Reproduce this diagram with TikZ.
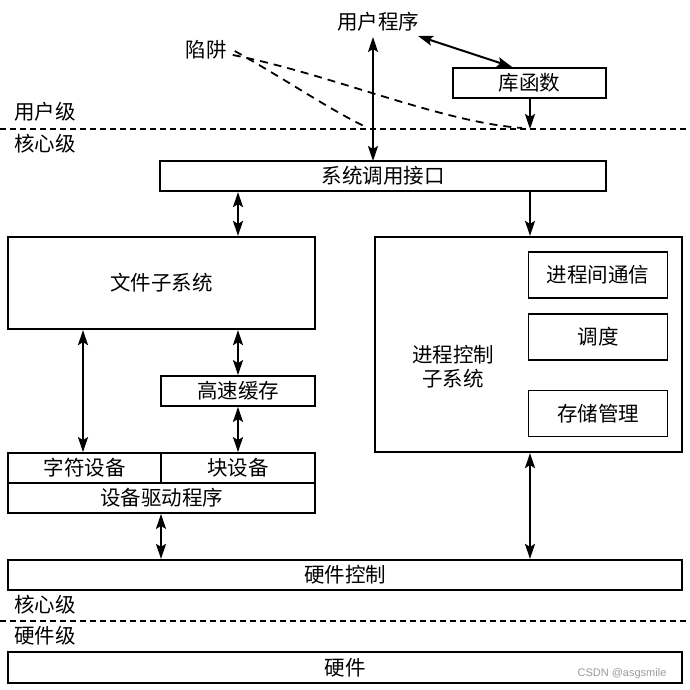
\documentclass[tikz,border=0pt]{standalone}
\usepackage{fontspec}
\newfontfamily\cjk{Noto Sans CJK SC}
\usetikzlibrary{arrows.meta}
\begin{document}
\begin{tikzpicture}[x=1pt,y=-1pt,
  box/.style={draw, line width=2.2pt, rectangle, inner sep=0pt, font=\cjk\fontsize{20.5}{24}\selectfont},
  lbl/.style={inner sep=0pt, font=\cjk\fontsize{20.5}{24}\selectfont},
  dbl/.style={line width=2pt, {Stealth[length=15pt,width=10pt,inset=3pt]}-{Stealth[length=15pt,width=10pt,inset=3pt]}},
  one/.style={line width=2pt, -{Stealth[length=15pt,width=10pt,inset=3pt]}},
  lev/.style={line width=1.6pt, dash pattern=on 6pt off 4pt},
  trapline/.style={line width=1.8pt, dash pattern=on 8pt off 6pt}]
\useasboundingbox (0,0) rectangle (690,690);
% top
\node[lbl] (user) at (378,22) {用户程序};
\node[lbl] (trap) at (206,50) {陷阱};
\node[box, minimum width=153pt, minimum height=30pt] (lib) at (529.5,83) {库函数};
\node[lbl, anchor=west] (ulev) at (14,112) {用户级};
\node[lbl, anchor=west] (klev1) at (14,144) {核心级};
\coordinate (l1a) at (0,129);
\coordinate (l1b) at (690,129);
\draw[lev] (l1a) -- (l1b);
% system call interface
\node[box, minimum width=446pt, minimum height=30pt] (sys) at (383,176) {系统调用接口};
\draw[dbl] (373,37) -- (373,161);
\draw[dbl] (418,36) -- (lib.north -| 512,0);
\coordinate (libend) at (530,129);
\draw[one] (lib.south -| libend) -- (libend);
% trap lines
\coordinate (t1) at (522,128);
\coordinate (t2) at (368,128);
\draw[trapline] ([xshift=6pt,yshift=-5pt]trap.east) .. controls (330,74) and (440,122) .. (t1);
\draw[trapline] ([xshift=8pt,yshift=-1pt]trap.east) .. controls (290,82) and (330,110) .. (t2);
% file subsystem
\node[box, minimum width=307pt, minimum height=92pt] (fs) at (161.5,283) {文件子系统};
\draw[dbl] (sys.south -| 238,0) -- (fs.north -| 238,0);
% process control
\node[box, minimum width=307pt, minimum height=215pt] (pc) at (528.5,344.5) {};
\node[lbl, align=center] (pctext) at (453,367) {进程控制\\子系统};
\draw[one] (sys.south -| 530,0) -- (pc.north -| 530,0);
\node[box, line width=1.8pt, minimum width=139pt, minimum height=46pt] (ipc) at (598,275) {进程间通信};
\node[box, line width=1.8pt, minimum width=139pt, minimum height=46pt] (sched) at (598,337) {调度};
\node[box, line width=1.8pt, minimum width=139pt, minimum height=46pt] (mem) at (598,413.5) {存储管理};
% cache
\node[box, line width=1.8pt, minimum width=154pt, minimum height=30pt] (cache) at (238,391) {高速缓存};
\draw[dbl] (fs.south -| cache.north) -- (cache.north);
% devices
\node[box, line width=1.8pt, minimum width=153pt, minimum height=30pt] (chr) at (84.5,468) {字符设备};
\node[box, line width=1.8pt, minimum width=154pt, minimum height=30pt] (blk) at (238,468) {块设备};
\node[box, line width=1.8pt, minimum width=307pt, minimum height=30pt] (drv) at (161.5,498) {设备驱动程序};
\draw[dbl] (cache.south) -- (blk.north);
\draw[dbl] (fs.south -| 83,0) -- (chr.north -| 83,0);
% hardware control
\node[box, minimum width=674pt, minimum height=30pt] (hwc) at (345,575) {硬件控制};
\draw[dbl] (drv.south -| 161,0) -- (hwc.north -| 161,0);
\draw[dbl] (pc.south -| 530,0) -- (hwc.north -| 530,0);
\node[lbl, anchor=west] (klev2) at (14,605) {核心级};
\coordinate (l2a) at (0,621);
\coordinate (l2b) at (690,621);
\draw[lev] (l2a) -- (l2b);
\node[lbl, anchor=west] (hlev) at (14,636) {硬件级};
\node[box, minimum width=674pt, minimum height=31pt] (hw) at (345,667.5) {硬件};
\node[inner sep=0pt, text=black!40, font=\fontspec{Liberation Sans}\fontsize{11}{13}\selectfont] (wm) at (622,674) {CSDN @asgsmile};
\end{tikzpicture}
\end{document}
